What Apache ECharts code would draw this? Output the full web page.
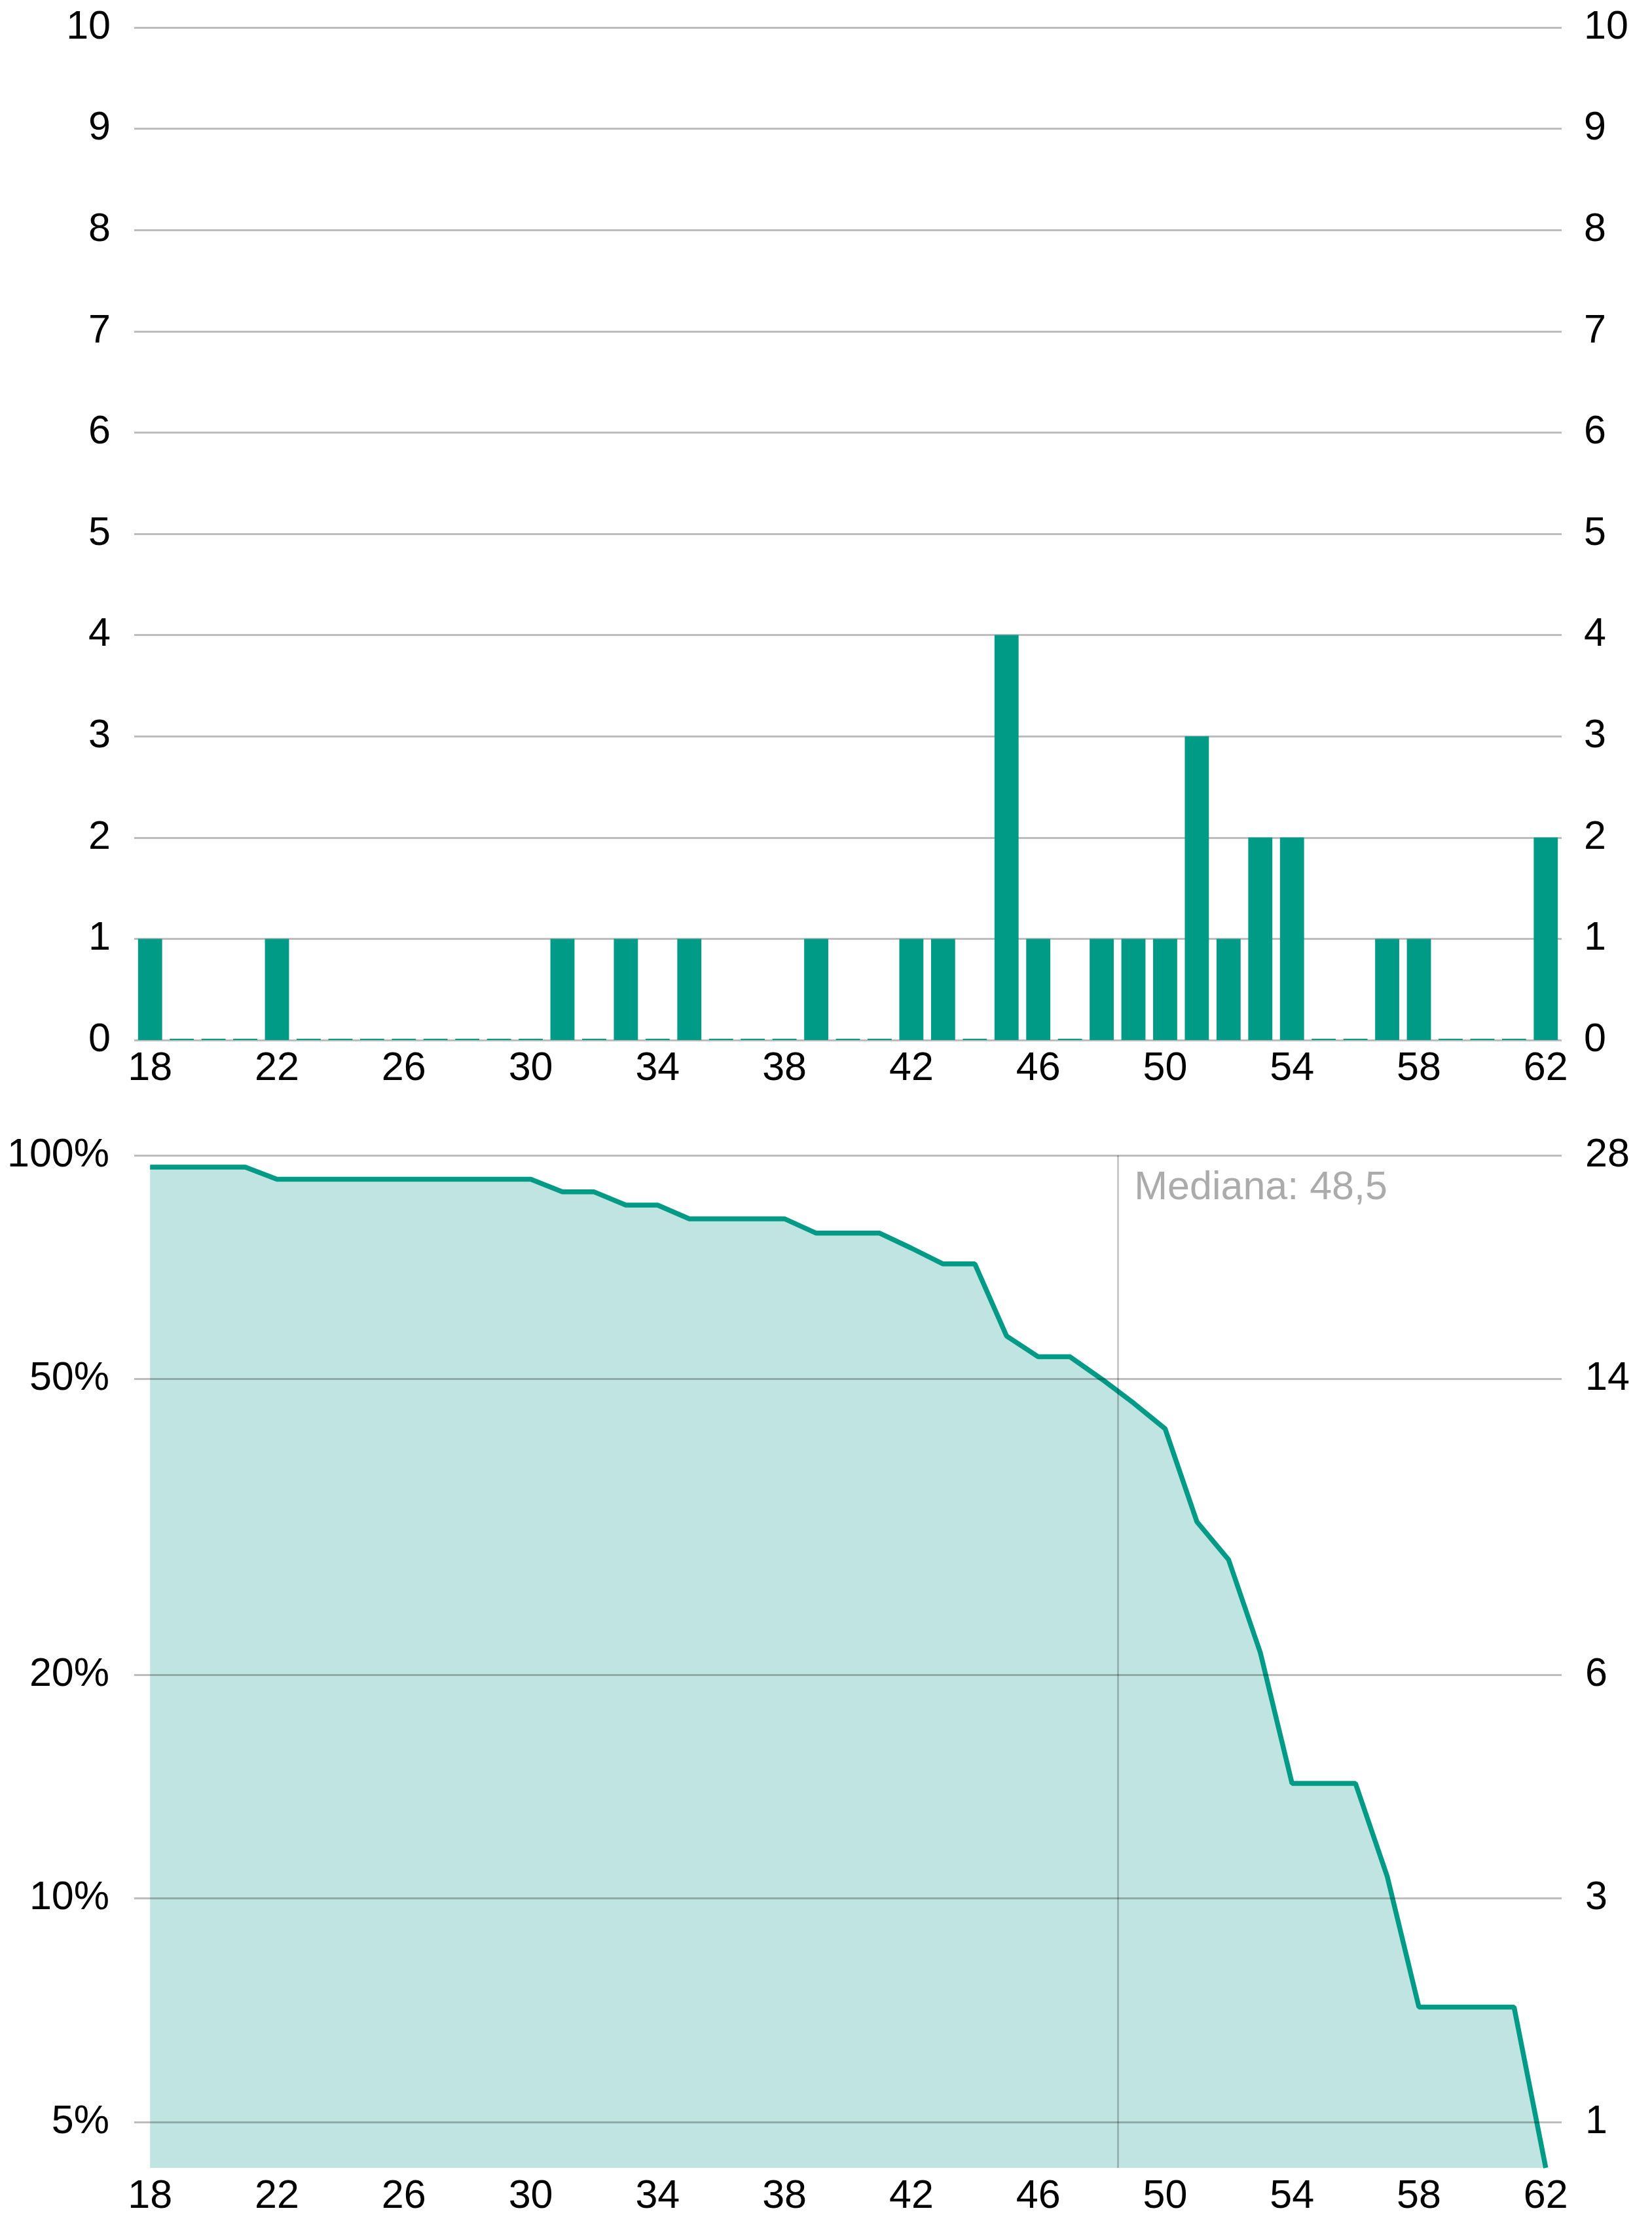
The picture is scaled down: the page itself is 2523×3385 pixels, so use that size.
<!DOCTYPE html>
<html>
<head>
<meta charset="utf-8">
<script src="https://cdn.jsdelivr.net/npm/echarts@6/dist/echarts.min.js"></script>
<style>
html,body{margin:0;padding:0;background:#fff;}
#main{width:2523px;height:3385px;}
</style>
</head>
<body>
<div id="main"></div>
<script>
// ages (categories) and number of people at each age
var ages = [18,19,20,21,22,23,24,25,26,27,28,29,30,31,32,33,34,35,36,37,38,39,40,
	41,42,43,44,45,46,47,48,49,50,51,52,53,54,55,56,57,58,59,60,61,62];
var counts = [1,0,0,0,1,0,0,0,0,0,0,0,0,1,0,1,0,1,0,0,0,1,0,0,1,1,0,4,1,0,
	1,1,1,3,1,2,2,0,0,1,1,0,0,0,2];
// people older than each age (bottom chart)
var older = [27,27,27,27,26,26,26,26,26,26,26,26,26,25,25,24,24,23,23,23,23,22,22,22,
	21,20,20,16,15,15,14,13,12,9,8,6,4,4,4,3,2,2,2,2,0];
var totalPeople = 28;
var medianAge = 48.5;

var xTicks = [18,22,26,30,34,38,42,46,50,54,58,62];
var pctTicks = [5,10,20,50,100];

var teal = '#009b87';
var font = 'Liberation Sans, Arial, sans-serif';
var yMin = 4.34;

var main = document.getElementById('main');
var myChart = echarts.init(main);

var lbl = function(extra){
	var o = {fontSize:61, color:'#000', fontFamily:font};
	for (var k in extra) o[k] = extra[k];
	return o;
};

var lineData = ages.map(function(a, i){
	return [a, Math.max(older[i] / totalPeople * 100, yMin)];
});

var option = {
	animation: false,
	backgroundColor: '#fff',
	grid: [
		{left:205, right:138, top:42, height:1546},
		{left:205, right:138, top:1764, height:1547}
	],
	xAxis: [
		{
			type:'category', gridIndex:0, data:ages,
			axisLine:{show:false}, axisTick:{show:false},
			axisLabel:lbl({interval:3, margin:14})
		},
		{
			type:'value', gridIndex:1, min:ages[0]-0.5, max:ages[ages.length-1]+0.5,
			splitLine:{show:false}, axisLine:{show:false},
			axisTick:{show:false, customValues:xTicks},
			axisLabel:lbl({customValues:xTicks, margin:14})
		}
	],
	yAxis: [
		{
			type:'value', gridIndex:0, min:0, max:10, interval:1, position:'left',
			axisLine:{show:false}, axisTick:{show:false},
			axisLabel:lbl({margin:36}),
			splitLine:{lineStyle:{color:'#bdbdbd', width:3}}
		},
		{
			type:'value', gridIndex:0, min:0, max:10, interval:1, position:'right',
			axisLine:{show:false}, axisTick:{show:false},
			axisLabel:lbl({margin:34}),
			splitLine:{show:false}
		},
		{
			type:'log', gridIndex:1, min:yMin, max:100, position:'left', z:5,
			axisLine:{show:false},
			axisTick:{show:false, customValues:pctTicks},
			minorTick:{show:false}, minorSplitLine:{show:false},
			axisLabel:lbl({margin:38, customValues:pctTicks, formatter:function(v){ return Math.round(v) + '%'; }}),
			splitLine:{show:true, lineStyle:{color:'rgba(0,0,0,0.26)', width:3}}
		},
		{
			type:'log', gridIndex:1, min:yMin, max:100, position:'right',
			axisLine:{show:false},
			axisTick:{show:false, customValues:pctTicks},
			axisLabel:lbl({margin:36, customValues:pctTicks, formatter:function(v){ return Math.round(v * totalPeople / 100); }}),
			splitLine:{show:false}
		}
	],
	series: [
		{
			type:'bar', xAxisIndex:0, yAxisIndex:0, data:counts,
			barWidth:'76%', barMinHeight:2,
			itemStyle:{color:teal}
		},
		{
			type:'line', xAxisIndex:1, yAxisIndex:2, data:lineData,
			showSymbol:false, symbol:'none',
			lineStyle:{color:teal, width:7.5},
			areaStyle:{color:'#c0e4e1', opacity:1},
			markLine:{
				silent:true, symbol:'none',
				lineStyle:{color:'rgba(0,0,0,0.25)', width:2.5, type:'solid'},
				label:{show:false},
				data:[{xAxis:medianAge}]
			},
			markPoint:{
				silent:true,
				symbol:'circle', symbolSize:1,
				itemStyle:{color:'rgba(0,0,0,0)'},
				label:{
					show:true, position:'right', distance:5, offset:[20,50],
					fontSize:61, color:'#ababab', fontFamily:font,
					formatter:'Mediana: ' + String(medianAge).replace('.', ',')
				},
				data:[{coord:[medianAge, 100]}]
			}
		}
	]
};
myChart.setOption(option);
</script>
</body>
</html>
